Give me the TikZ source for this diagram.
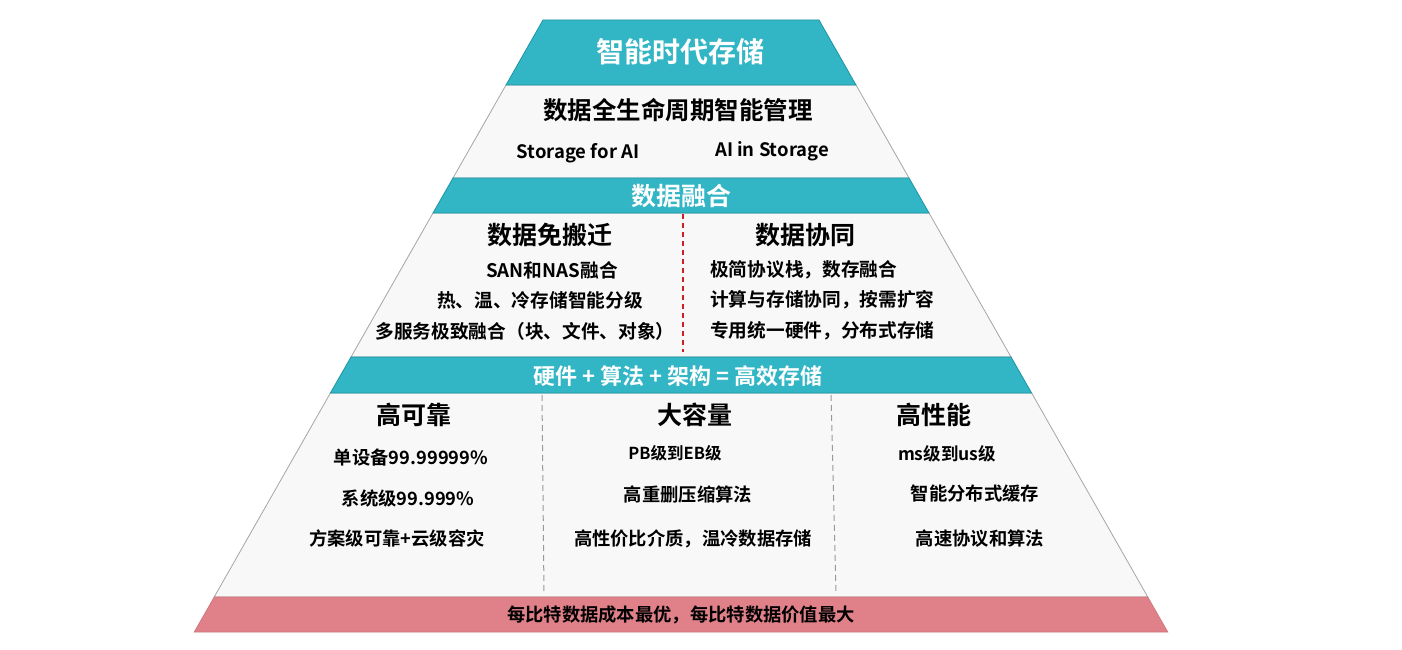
\documentclass[tikz,border=0pt]{standalone}
\usepackage{fontspec}
\setmainfont{Noto Sans CJK SC}
\newfontfamily\cjkb{Noto Sans CJK SC Bold}
\definecolor{teal1}{RGB}{50,181,196}
\definecolor{teal2}{RGB}{28,150,166}
\definecolor{pink1}{RGB}{224,128,137}
\definecolor{pale}{RGB}{248,248,248}
\definecolor{edge}{RGB}{165,165,165}
\definecolor{redline}{RGB}{205,30,35}
\tikzset{
  band/.style={fill=teal1, draw=teal2, line width=0.8pt},
  sect/.style={fill=pale, draw=edge, line width=0.8pt},
  pinkband/.style={fill=pink1, draw=pink1!90!black, line width=0.6pt},
  wt/.style={text=white, font=\cjkb\fontsize{#1}{#1}\selectfont, inner sep=0pt},
  bt/.style={text=black, font=\cjkb\fontsize{#1}{#1}\selectfont, inner sep=0pt},
  divred/.style={draw=redline, line width=1.3pt, dash pattern=on 5pt off 4pt},
  divgray/.style={draw=gray!80, line width=1pt, dash pattern=on 6pt off 4pt},
}
\begin{document}
\begin{tikzpicture}[x=1pt,y=-1pt]
\useasboundingbox (0,0) rectangle (1402,650);
\fill[white] (0,0) rectangle (1402,650);
% white sections
\path[sect] (506,85) -- (856,85) -- (909,178) -- (453,178) -- cycle;
\path[sect] (433,213) -- (929,213) -- (1011,357) -- (351,357) -- cycle;
\path[sect] (330.4,393) -- (1031.6,393) -- (1147.8,597) -- (214.2,597) -- cycle;
% bands
\path[band] (543,20) -- (819,20) -- (856,85) -- (506,85) -- cycle;
\path[band] (453,178) -- (909,178) -- (929,213) -- (433,213) -- cycle;
\path[band] (351,357) -- (1011,357) -- (1031.6,393) -- (330.4,393) -- cycle;
\path[pinkband] (214.2,597) -- (1147.8,597) -- (1167.8,632) -- (194.2,632) -- cycle;
% dividers
\draw[divred] (683,214) -- (683,352);
\draw[divgray] (542,395) -- (544,594);
\draw[divgray] (831,395) -- (836,594);
% texts
\node[wt=28] (title) at (680,52) {智能时代存储};
\node[bt=24.5] (mgmt) at (678,110) {数据全生命周期智能管理};
\node[bt=18.5] (sfa) at (578,153) {Storage for AI};
\node[bt=18.5] (ais) at (772,151) {AI in Storage};
\node[wt=25] (fuse) at (681,196) {数据融合};
\node[bt=25] (nomove) at (550,235) {数据免搬迁};
\node[bt=25] (coop) at (805,235) {数据协同};
\node[bt=18.7] (l1) at (552,270) {SAN和NAS融合};
\node[bt=18.7] (l2) at (540,300) {热、温、冷存储智能分级};
\node[bt=18.7] (l3) at (525,331) {多服务极致融合（块、文件、对象）};
\node[bt=18.7, anchor=west] (r1) at (710,270) {极简协议栈，数存融合};
\node[bt=18.7, anchor=west] (r2) at (710,300) {计算与存储协同，按需扩容};
\node[bt=18.7, anchor=west] (r3) at (710,331) {专用统一硬件，分布式存储};
\node[wt=22] (formula) at (678,376) {硬件 + 算法 + 架构 = 高效存储};
\node[bt=25] (c1) at (414,415) {高可靠};
\node[bt=25] (c2) at (695,415) {大容量};
\node[bt=25] (c3) at (934,415) {高性能};
\node[bt=18.3] (a1) at (411,458) {单设备99.99999\%};
\node[bt=18.3] (a2) at (408,499) {系统级99.999\%};
\node[bt=18.3] (a3) at (397,538) {方案级可靠+云级容灾};
\node[bt=16.5] (b1) at (675,453) {PB级到EB级};
\node[bt=18.3] (b2) at (688,495) {高重删压缩算法};
\node[bt=18.3] (b3) at (693,539) {高性价比介质，温冷数据存储};
\node[bt=17.5] (d1) at (947,454) {ms级到us级};
\node[bt=18.3] (d2) at (975,494) {智能分布式缓存};
\node[bt=18.3] (d3) at (980,539) {高速协议和算法};
\node[bt=18.3] (bottom) at (681,615) {每比特数据成本最优，每比特数据价值最大};
\end{tikzpicture}
\end{document}
